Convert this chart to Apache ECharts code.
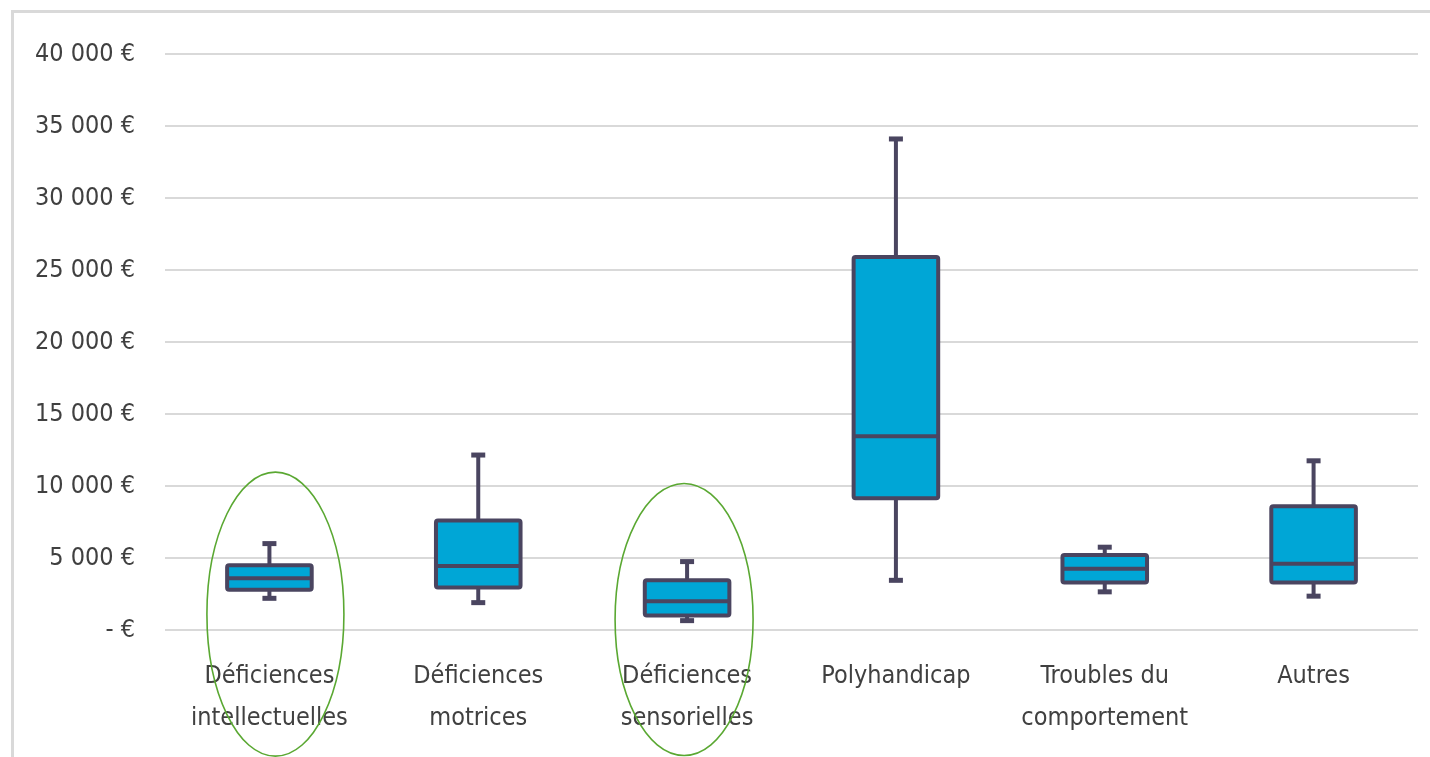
<!DOCTYPE html>
<html>
<head>
<meta charset="utf-8">
<script src="https://cdn.jsdelivr.net/npm/echarts@6/dist/echarts.min.js"></script>
<style>
html,body{margin:0;padding:0;background:#fff;}
#chart{width:1430px;height:757px;}
</style>
</head>
<body>
<div id="chart"></div>
<script>
// ---- data ----
var categories = ['Déficiences\nintellectuelles', 'Déficiences\nmotrices', 'Déficiences\nsensorielles', 'Polyhandicap', 'Troubles du\ncomportement', 'Autres'];
var whiskerMin = [2200, 1900, 650, 3450, 2650, 2350];
var quartile1  = [2800, 2950, 1000, 9150, 3300, 3300];
var medianVal  = [3600, 4450, 2000, 13450, 4250, 4600];
var quartile3  = [4500, 7600, 3450, 25900, 5200, 8600];
var whiskerMax = [6000, 12150, 4750, 34100, 5750, 11750];
var yTicks = [0, 5000, 10000, 15000, 20000, 25000, 30000, 35000, 40000];
// annotation ellipses (category index, centre value)
var annotCategory = [0, 2];
var annotCenterValue = [1100, 730];

var FONT = '"DejaVu Sans Condensed", "Liberation Sans Narrow", "Liberation Sans", sans-serif';
var BORDER = '#4a4560';
var FILL = '#00a6d6';
var TEXT = '#404040';

var seriesData = categories.map(function (c, i) {
  return [i, whiskerMin[i], quartile1[i], medianVal[i], quartile3[i], whiskerMax[i]];
});

function fmt(v) {
  if (v === 0) return '- €';
  var s = String(Math.round(v));
  var out = '';
  while (s.length > 3) { out = ' ' + s.slice(-3) + out; s = s.slice(0, -3); }
  return s + out + ' €';
}

var chart = echarts.init(document.getElementById('chart'), null, {renderer: 'canvas'});

var option = {
  animation: false,
  backgroundColor: '#fff',
  grid: {left: 165, right: 12, top: 54, bottom: 127},
  xAxis: {
    type: 'category',
    data: categories,
    axisLine: {show: false},
    axisTick: {show: false},
    axisLabel: {color: TEXT, fontFamily: FONT, fontSize: 25, lineHeight: 42, margin: 25, interval: 0}
  },
  yAxis: {
    type: 'value',
    min: yTicks[0],
    max: yTicks[yTicks.length - 1],
    interval: yTicks[1] - yTicks[0],
    axisLine: {show: false},
    axisTick: {show: false},
    splitLine: {lineStyle: {color: '#d9d9d9', width: 2}},
    axisLabel: {color: TEXT, fontFamily: FONT, fontSize: 25, margin: 30, formatter: fmt}
  },
  series: [{
    type: 'custom',
    data: seriesData,
    encode: {x: 0, y: [1, 2, 3, 4, 5]},
    renderItem: function (params, api) {
      var x = api.value(0);
      var pMin = api.coord([x, api.value(1)]);
      var pQ1 = api.coord([x, api.value(2)]);
      var pMed = api.coord([x, api.value(3)]);
      var pQ3 = api.coord([x, api.value(4)]);
      var pMax = api.coord([x, api.value(5)]);
      var bw = api.size([1, 0])[0] * 0.405;
      var cx = pMin[0];
      var capW = 14;
      var lineStyle = {stroke: BORDER, lineWidth: 4, lineCap: 'butt'};
      return {
        type: 'group',
        children: [
          {type: 'line', shape: {x1: cx, y1: pMax[1], x2: cx, y2: pQ3[1]}, style: lineStyle},
          {type: 'line', shape: {x1: cx, y1: pQ1[1], x2: cx, y2: pMin[1]}, style: lineStyle},
          {type: 'line', shape: {x1: cx - capW / 2, y1: pMax[1], x2: cx + capW / 2, y2: pMax[1]}, style: {stroke: BORDER, lineWidth: 5}},
          {type: 'line', shape: {x1: cx - capW / 2, y1: pMin[1], x2: cx + capW / 2, y2: pMin[1]}, style: {stroke: BORDER, lineWidth: 5}},
          {type: 'rect', shape: {x: cx - bw / 2, y: pQ3[1], width: bw, height: pQ1[1] - pQ3[1], r: 2},
            style: {fill: FILL, stroke: BORDER, lineWidth: 4, lineJoin: 'round'}},
          {type: 'line', shape: {x1: cx - bw / 2, y1: pMed[1], x2: cx + bw / 2, y2: pMed[1]}, style: {stroke: BORDER, lineWidth: 4}}
        ]
      };
    }
  }]
};

chart.setOption(option);

// chart frame + annotation ellipses
var graphics = [{
  type: 'rect',
  shape: {x: 12.5, y: 11.5, width: 1460, height: 800},
  style: {fill: null, stroke: '#d9d9d9', lineWidth: 3},
  silent: true, z: -1
}];
var ellDx = [6, -3];
var ellR = [[68.5, 142], [69, 136]];
annotCategory.forEach(function (ci, k) {
  var p = chart.convertToPixel({gridIndex: 0}, [ci, annotCenterValue[k]]);
  graphics.push({
    type: 'ellipse',
    shape: {cx: p[0] + ellDx[k], cy: p[1], rx: ellR[k][0], ry: ellR[k][1]},
    style: {fill: null, stroke: '#5aa832', lineWidth: 1.6},
    silent: true, z: 100
  });
});
chart.setOption({graphic: graphics});
</script>
</body>
</html>
